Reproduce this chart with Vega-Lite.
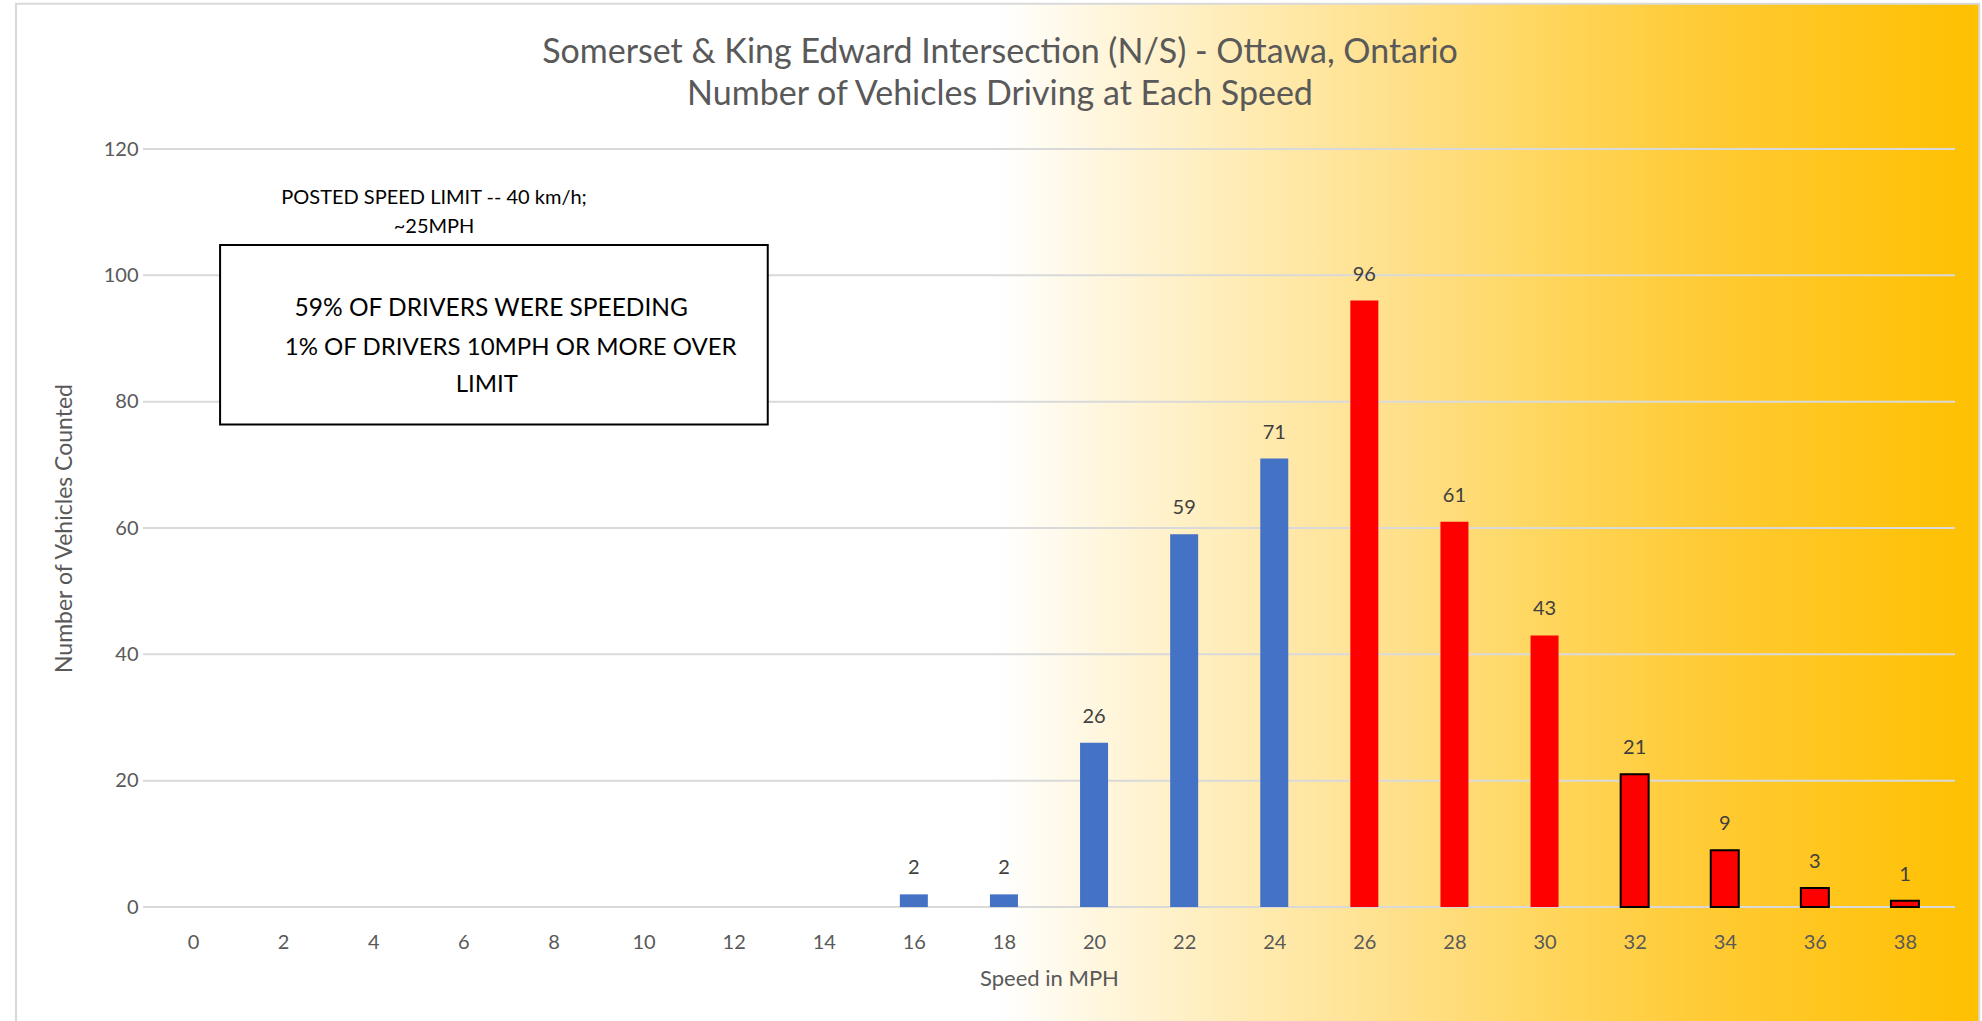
{
  "$schema": "https://vega.github.io/schema/vega-lite/v6.json",
  "width": 1812,
  "height": 758,
  "autosize": {"type": "none"},
  "padding": {"left": 143, "top": 149, "right": 27, "bottom": 114},
  "background": "white",
  "config": {"view": {"stroke": null}, "font": "Lato"},
  "title": {
    "text": ["Somerset & King Edward Intersection (N/S) - Ottawa, Ontario", "Number of Vehicles Driving at Each Speed"],
    "fontSize": 34,
    "font": "Lato",
    "fontWeight": "normal",
    "color": "#595959",
    "anchor": "middle",
    "frame": "group",
    "dx": -49,
    "offset": -109,
    "lineHeight": 42
  },
  "datasets": {
    "counts": [
      {"speed": 16, "count": 2},
      {"speed": 18, "count": 2},
      {"speed": 20, "count": 26},
      {"speed": 22, "count": 59},
      {"speed": 24, "count": 71},
      {"speed": 26, "count": 96},
      {"speed": 28, "count": 61},
      {"speed": 30, "count": 43},
      {"speed": 32, "count": 21},
      {"speed": 34, "count": 9},
      {"speed": 36, "count": 3},
      {"speed": 38, "count": 1}
    ],
    "grid": [{"count": 0}, {"count": 20}, {"count": 40}, {"count": 60}, {"count": 80}, {"count": 100}, {"count": 120}],
    "notes": [
      {"label": "POSTED SPEED LIMIT -- 40 km/h;", "speed": 5.35, "count": 112.2, "size": 20},
      {"label": "~25MPH", "speed": 5.35, "count": 107.6, "size": 20},
      {"label": "59% OF DRIVERS WERE SPEEDING", "speed": 6.62, "count": 94.6, "size": 24.5},
      {"label": "1% OF DRIVERS 10MPH OR MORE OVER", "speed": 7.05, "count": 88.5, "size": 24},
      {"label": "LIMIT", "speed": 6.52, "count": 82.7, "size": 24}
    ],
    "box": [{"speed": 0.6, "speed2": 12.757, "count": 104.8, "count2": 76.4}]
  },
  "layer": [
    {
      "data": {"values": [{}]},
      "mark": {
        "type": "rect",
        "stroke": "#D9D9D9",
        "strokeWidth": 2,
        "fill": {
          "gradient": "linear",
          "x1": 0, "y1": 0, "x2": 1, "y2": 0,
          "stops": [
            {"offset": 0, "color": "#FFFFFF"},
            {"offset": 0.50, "color": "#FFFFFF"},
            {"offset": 0.553, "color": "#FFF6DD"},
            {"offset": 0.629, "color": "#FFEBB2"},
            {"offset": 0.705, "color": "#FFE08A"},
            {"offset": 0.781, "color": "#FFD65C"},
            {"offset": 0.857, "color": "#FFCB36"},
            {"offset": 1, "color": "#FFC000"}
          ]
        }
      },
      "encoding": {
        "x": {"datum": -3.93, "type": "quantitative", "scale": {"domain": [-1, 39], "nice": false, "zero": false}},
        "x2": {"datum": 39.65},
        "y": {"datum": 143, "type": "quantitative", "scale": {"domain": [0, 120], "nice": false}},
        "y2": {"datum": -19}
      }
    },
    {
      "data": {"name": "grid"},
      "mark": {"type": "rule", "color": "#D9D9D9", "strokeWidth": 2},
      "encoding": {
        "y": {"field": "count", "type": "quantitative", "scale": {"domain": [0, 120], "nice": false}}
      }
    },
    {
      "data": {"name": "counts"},
      "mark": {"type": "bar", "size": 28, "stroke": "#000000"},
      "encoding": {
        "x": {
          "field": "speed", "type": "quantitative",
          "scale": {"domain": [-1, 39], "nice": false, "zero": false},
          "axis": {
            "values": [0, 2, 4, 6, 8, 10, 12, 14, 16, 18, 20, 22, 24, 26, 28, 30, 32, 34, 36, 38],
            "title": "Speed in MPH",
            "ticks": false, "domain": false, "grid": false,
            "labelFontSize": 20, "labelColor": "#595959", "labelPadding": 25, "labelFont": "Lato",
            "titleFontSize": 22, "titleColor": "#595959", "titleFontWeight": "normal", "titleFont": "Lato", "titlePadding": 16,
            "zindex": 1
          }
        },
        "y": {
          "field": "count", "type": "quantitative",
          "scale": {"domain": [0, 120], "nice": false},
          "axis": {
            "values": [0, 20, 40, 60, 80, 100, 120],
            "title": "Number of Vehicles Counted",
            "ticks": false, "domain": false, "grid": false,
            "labelFontSize": 20, "labelColor": "#595959", "labelPadding": 5, "labelFont": "Lato",
            "titleFontSize": 23, "titleColor": "#595959", "titleFontWeight": "normal", "titleFont": "Lato", "titlePadding": 27,
            "zindex": 1
          }
        },
        "fill": {"condition": {"test": "datum.speed <= 24", "value": "#4472C4"}, "value": "#FF0000"},
        "strokeWidth": {"condition": {"test": "datum.speed >= 32", "value": 2}, "value": 0}
      }
    },
    {
      "data": {"name": "counts"},
      "mark": {"type": "text", "baseline": "bottom", "dy": -16, "fontSize": 20, "color": "#404040", "font": "Lato"},
      "encoding": {
        "x": {"field": "speed", "type": "quantitative", "scale": {"domain": [-1, 39], "nice": false, "zero": false}},
        "y": {"field": "count", "type": "quantitative", "scale": {"domain": [0, 120], "nice": false}},
        "text": {"field": "count", "type": "quantitative"}
      }
    },
    {
      "data": {"name": "box"},
      "mark": {"type": "rect", "fill": "#FFFFFF", "stroke": "#000000", "strokeWidth": 2},
      "encoding": {
        "x": {"field": "speed", "type": "quantitative", "scale": {"domain": [-1, 39], "nice": false, "zero": false}},
        "x2": {"field": "speed2"},
        "y": {"field": "count", "type": "quantitative", "scale": {"domain": [0, 120], "nice": false}},
        "y2": {"field": "count2"}
      }
    },
    {
      "data": {"name": "notes"},
      "mark": {"type": "text", "baseline": "middle", "align": "center", "color": "#000000", "font": "Lato"},
      "encoding": {
        "x": {"field": "speed", "type": "quantitative", "scale": {"domain": [-1, 39], "nice": false, "zero": false}},
        "y": {"field": "count", "type": "quantitative", "scale": {"domain": [0, 120], "nice": false}},
        "text": {"field": "label", "type": "nominal"},
        "size": {"field": "size", "type": "quantitative", "scale": null}
      }
    }
  ]
}
